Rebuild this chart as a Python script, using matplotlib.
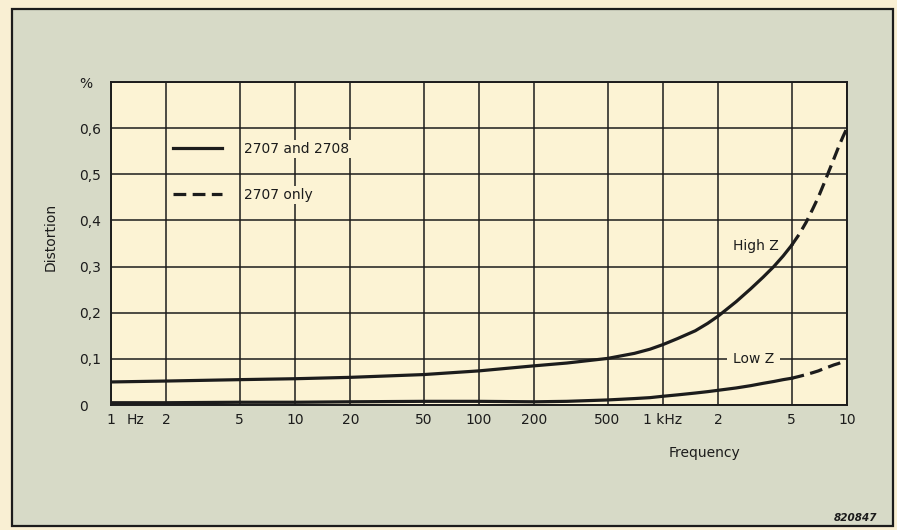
import matplotlib
matplotlib.use("Agg")
import matplotlib.pyplot as plt
from matplotlib.patches import Rectangle

# Datos (frecuencia en Hz, distorsion en %)
frecuencias_solido = [1, 2, 5, 10, 20, 50, 100, 200, 300, 500, 700, 850, 1000, 1200, 1500, 1750,
                      2000, 2500, 3000, 3500, 4000, 4500, 5000]
high_z_solido = [0.050, 0.052, 0.055, 0.057, 0.060, 0.066, 0.074, 0.085, 0.091, 0.101, 0.112, 0.121,
                 0.131, 0.144, 0.161, 0.177, 0.193, 0.224, 0.252, 0.277, 0.300, 0.323, 0.346]
low_z_solido = [0.005, 0.005, 0.006, 0.006, 0.007, 0.008, 0.008, 0.007, 0.008, 0.011, 0.014, 0.016,
                0.019, 0.022, 0.026, 0.029, 0.032, 0.037, 0.042, 0.047, 0.051, 0.055, 0.058]

frecuencias_discontinuo = [5000, 5500, 6000, 6500, 7000, 7500, 8000, 8500, 9000, 9500, 10000]
high_z_discontinuo = [0.346, 0.370, 0.396, 0.424, 0.451, 0.480, 0.508, 0.534, 0.559, 0.581, 0.600]
low_z_discontinuo = [0.058, 0.062, 0.066, 0.070, 0.074, 0.079, 0.083, 0.087, 0.090, 0.094, 0.097]

xticks = [1, 2, 5, 10, 20, 50, 100, 200, 500, 1000, 2000, 5000, 10000]
xtick_labels = ["1", "2", "5", "10", "20", "50", "100", "200", "500", "1 kHz", "2", "5", "10"]
yticks = [0, 0.1, 0.2, 0.3, 0.4, 0.5, 0.6, 0.7]
ytick_labels = ["0", "0,1", "0,2", "0,3", "0,4", "0,5", "0,6", "%"]

# Colores
fondo = "#f9efd3"
panel = "#d7dac7"
papel = "#fcf3d4"
tinta = "#1c1c1c"

fig = plt.figure(figsize=(8.97, 5.30), dpi=100, facecolor=fondo)
fig.patches.append(Rectangle((0.0134, 0.0075), 0.9821, 0.9755, transform=fig.transFigure,
                             facecolor=panel, edgecolor=tinta, lw=1.6, zorder=-1))

ax = fig.add_axes([0.1237, 0.2358, 0.8205, 0.6094])
ax.set_facecolor(papel)
ax.set_xscale("log")
ax.set_xlim(1, 10000)
ax.set_ylim(0, 0.7)

ax.set_xticks(xticks, xtick_labels)
ax.set_xticks([1.36], ["Hz"], minor=True)
ax.set_yticks(yticks, ytick_labels)
ax.tick_params(which="both", length=0, labelsize=10, labelcolor=tinta)
ax.tick_params(axis="x", which="both", pad=6)
ax.tick_params(axis="y", pad=23)
plt.setp(ax.get_yticklabels(), ha="left")

ax.grid(True, which="major", color=tinta, lw=1.1)
for s in ax.spines.values():
    s.set_color(tinta)
    s.set_linewidth(1.4)

# Curvas
ax.plot(frecuencias_solido, high_z_solido, color=tinta, lw=2.3, label="2707 and 2708")
ax.plot(frecuencias_discontinuo, high_z_discontinuo, color=tinta, lw=2.3, dashes=(4, 2), label="2707 only")
ax.plot(frecuencias_solido, low_z_solido, color=tinta, lw=2.3)
ax.plot(frecuencias_discontinuo, low_z_discontinuo, color=tinta, lw=2.3, dashes=(4, 2))

leg = ax.legend(loc="upper left", bbox_to_anchor=(0.0842, 0.815), frameon=False, handlelength=3.5,
                handletextpad=1.6, labelspacing=2.3, borderpad=0, borderaxespad=0, fontsize=10)
for t in leg.get_texts():
    t.set_color(tinta)
    t.set_bbox(dict(facecolor=papel, edgecolor="none", pad=1.5))

ax.text(3200, 0.345, "High Z", ha="center", va="center", fontsize=10, color=tinta)
ax.text(3100, 0.1, "Low Z", ha="center", va="center", fontsize=10, color=tinta,
        bbox=dict(facecolor=papel, edgecolor="none", pad=4))

ax.set_xlabel("Frequency", fontsize=10, color=tinta)
ax.xaxis.set_label_coords(0.806, -0.127)
ax.set_ylabel("Distortion", fontsize=10, color=tinta)
ax.yaxis.set_label_coords(-0.073, 0.52)

fig.text(0.954, 0.0226, "820847", fontsize=7.5, style="italic", weight="bold", color=tinta,
         ha="center", va="center")

fig.savefig("out.png", dpi=100, facecolor=fig.get_facecolor())
